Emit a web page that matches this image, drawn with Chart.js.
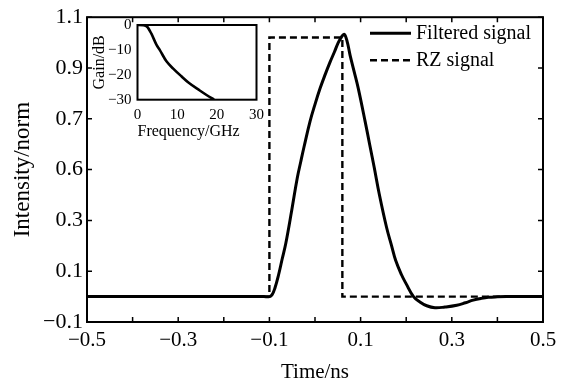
<!DOCTYPE html>
<html><head><meta charset="utf-8">
<script src="https://cdn.jsdelivr.net/npm/chart.js@4.4.0/dist/chart.umd.min.js"></script>
<style>
html,body{margin:0;padding:0;background:#fff;}
#wrap{position:relative;width:571px;height:387px;background:#fff;}
canvas{position:absolute;}
</style>
</head><body>
<div id="wrap">
<canvas id="main" width="571" height="387" style="left:0;top:0"></canvas>
<canvas id="inset" width="185" height="135" style="left:90px;top:10px"></canvas>
</div>
<script>
// ---- data ----
const filteredT = [-0.5, -0.3, -0.2, -0.13, -0.112, -0.1, -0.094, -0.088, -0.08, -0.072, -0.064, -0.051, -0.039, -0.031, -0.024, -0.011, 0.0, 0.011, 0.022, 0.033, 0.043, 0.051, 0.058, 0.064, 0.070, 0.077, 0.086, 0.095, 0.110, 0.120, 0.130, 0.141, 0.157, 0.168, 0.177, 0.190, 0.200, 0.216, 0.230, 0.245, 0.263, 0.285, 0.311, 0.330, 0.347, 0.365, 0.38, 0.40, 0.42, 0.46, 0.5];
const filteredI = [0, 0, 0, 0, 0, 0, 0.008, 0.033, 0.085, 0.148, 0.21, 0.34, 0.466, 0.533, 0.59, 0.689, 0.757, 0.819, 0.873, 0.923, 0.965, 1.0, 1.022, 1.033, 1.008, 0.95, 0.885, 0.819, 0.689, 0.598, 0.507, 0.403, 0.272, 0.2, 0.142, 0.085, 0.05, 0.0, -0.021, -0.036, -0.044, -0.041, -0.034, -0.024, -0.014, -0.007, -0.003, -0.001, 0, 0, 0];
const rzT = [-0.5, -0.1, -0.1, 0.06, 0.06, 0.5];
const rzI = [0, 0, 1.02, 1.02, 0, 0];
const gainF = [0, 1.5, 2.5, 3.5, 4.8, 5.6, 7.3, 9, 11, 13, 15.7, 17.5, 19.3];
const gainDb = [0, -0.1, -0.8, -3.5, -8, -10, -14.6, -17.5, -20.5, -23.3, -26.3, -28.2, -30];
const xTickLabels = ['\u22120.5', '\u22120.3', '\u22120.1', '0.1', '0.3', '0.5'];
const yTickLabels = ['\u22120.1', '0.1', '0.3', '0.6', '0.7', '0.9', '1.1'];
const freqTickLabels = ['0', '10', '20', '30'];
const gainTickLabels = ['\u221230', '\u221220', '\u221210', '0'];
const seriesNames = ['Filtered signal', 'RZ signal'];

const SERIF = "'Liberation Serif', 'Times New Roman', serif";

const framePlugin = (tickLen) => ({
  id: 'frame',
  afterDatasetsDraw(chart) {
    const {ctx, chartArea: a, scales} = chart;
    ctx.save();
    ctx.strokeStyle = '#000';
    if (tickLen) {
      ctx.lineWidth = 1.5;
      ctx.beginPath();
      scales.x.ticks.forEach(t => {
        const px = scales.x.getPixelForValue(t.value);
        ctx.moveTo(px, a.bottom); ctx.lineTo(px, a.bottom - tickLen);
        ctx.moveTo(px, a.top); ctx.lineTo(px, a.top + tickLen);
      });
      scales.y.ticks.forEach(t => {
        const py = scales.y.getPixelForValue(t.value);
        ctx.moveTo(a.left, py); ctx.lineTo(a.left + tickLen, py);
        ctx.moveTo(a.right, py); ctx.lineTo(a.right - tickLen, py);
      });
      ctx.stroke();
    }
    ctx.lineWidth = 2;
    ctx.strokeRect(a.left, a.top, a.right - a.left, a.bottom - a.top);
    ctx.restore();
  }
});

const legendPlugin = {
  id: 'innerLegend',
  afterDraw(chart) {
    const ctx = chart.ctx;
    const a = chart.chartArea;
    const x0 = a.right - 173, x1 = a.right - 132, tx = a.right - 127;
    const rows = [a.top + 16, a.top + 43];
    chart.data.datasets.forEach((ds, i) => {
      const y = rows[i];
      ctx.save();
      ctx.strokeStyle = ds.borderColor;
      ctx.lineWidth = ds.borderWidth;
      ctx.setLineDash(ds.borderDash || []);
      ctx.beginPath(); ctx.moveTo(x0, y); ctx.lineTo(x1, y); ctx.stroke();
      ctx.setLineDash([]);
      ctx.fillStyle = '#000';
      ctx.font = '20px ' + SERIF;
      ctx.textBaseline = 'middle';
      ctx.fillText(ds.label, tx, y + 1);
      ctx.restore();
    });
  }
};

new Chart(document.getElementById('main'), {
  type: 'line',
  data: {
    datasets: [
      { label: seriesNames[0], data: filteredT.map((t, i) => ({x: t, y: filteredI[i]})),
        borderColor: '#000', borderWidth: 3, pointRadius: 0, tension: 0.4, fill: false },
      { label: seriesNames[1], data: rzT.map((t, i) => ({x: t, y: rzI[i]})),
        borderColor: '#000', borderWidth: 2.4, borderDash: [7, 4], pointRadius: 0, tension: 0, fill: false }
    ]
  },
  options: {
    responsive: false, animation: false, devicePixelRatio: 1,
    layout: { padding: { top: 15, right: 28, left: 0, bottom: 0 } },
    plugins: { legend: { display: false }, tooltip: { enabled: false } },
    scales: {
      x: {
        type: 'linear', min: -0.5, max: 0.5,
        grid: { display: false, drawTicks: false }, border: { display: false },
        ticks: { stepSize: 0.1, autoSkip: false, maxRotation: 0, padding: 6, color: '#000',
                 font: { family: SERIF, size: 21 },
                 callback: (v, i) => (i % 2 === 0 ? xTickLabels[i / 2] : '') },
        title: { display: true, text: 'Time/ns', color: '#000', font: { family: SERIF, size: 21 }, padding: { top: 0, bottom: 2 } },
        afterFit: (s) => { s.height = 65; }
      },
      y: {
        type: 'linear', min: -0.1, max: 1.1,
        grid: { display: false, drawTicks: false }, border: { display: false },
        ticks: { stepSize: 0.2, autoSkip: false, padding: 4, color: '#000',
                 font: { family: SERIF, size: 22 },
                 callback: (v, i) => yTickLabels[i] },
        title: { display: true, text: 'Intensity/norm', color: '#000', font: { family: SERIF, size: 23 }, padding: { top: 9, bottom: 0 } },
        afterFit: (s) => { s.width = 87; }
      }
    }
  },
  plugins: [framePlugin(5), legendPlugin]
});

new Chart(document.getElementById('inset'), {
  type: 'line',
  data: {
    datasets: [
      { label: 'Gain', data: gainF.map((f, i) => ({x: f, y: gainDb[i]})),
        borderColor: '#000', borderWidth: 2.6, pointRadius: 0, cubicInterpolationMode: 'monotone', fill: false }
    ]
  },
  options: {
    responsive: false, animation: false, devicePixelRatio: 1,
    layout: { padding: { top: 12.5, right: 18.5, left: 0, bottom: 0 } },
    plugins: { legend: { display: false }, tooltip: { enabled: false } },
    scales: {
      x: {
        type: 'linear', min: 0, max: 30,
        grid: { display: false, drawTicks: false }, border: { display: false },
        ticks: { stepSize: 10, autoSkip: false, maxRotation: 0, padding: 6, color: '#000',
                 font: { family: SERIF, size: 15 }, callback: (v, i) => freqTickLabels[i] },
        title: { display: true, text: 'Frequency/GHz', align: 'start', color: '#000', font: { family: SERIF, size: 16 }, padding: { top: 0, bottom: 4 } },
        afterFit: (s) => { s.height = 45.3; }
      },
      y: {
        type: 'linear', min: -30, max: 0,
        grid: { display: false, drawTicks: false }, border: { display: false },
        ticks: { stepSize: 10, autoSkip: false, padding: 6, color: '#000',
                 font: { family: SERIF, size: 15 }, callback: (v, i) => gainTickLabels[i] },
        title: { display: true, text: 'Gain/dB', color: '#000', font: { family: SERIF, size: 16 }, padding: { top: 0, bottom: 0 } },
        afterFit: (s) => { s.width = 47.5; }
      }
    }
  },
  plugins: [framePlugin(0)]
});
</script>
</body></html>
